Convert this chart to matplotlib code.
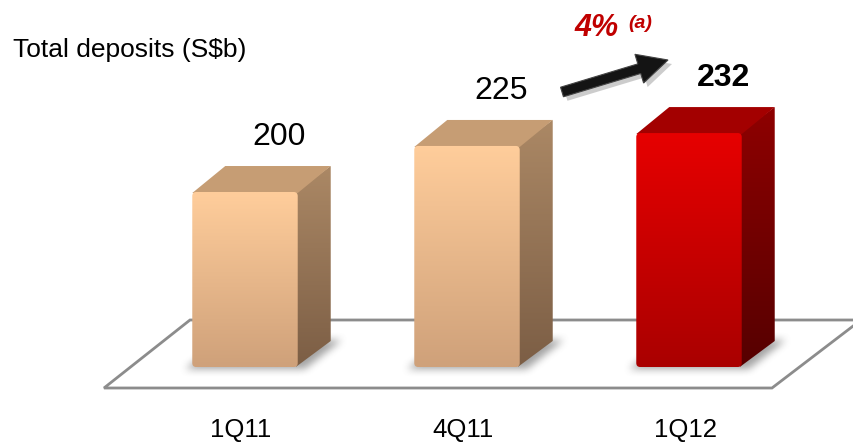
import numpy as np
import matplotlib
matplotlib.use("Agg")
import matplotlib.pyplot as plt
from matplotlib.patches import Polygon, FancyBboxPatch, FancyArrow
from matplotlib.transforms import IdentityTransform
from matplotlib.colors import to_rgb

# data
quarters = ["1Q11", "4Q11", "1Q12"]
deposits = [200, 225, 232]
growth_label = "4%"
growth_note = "(a)"
y_title = "Total deposits (S$b)"

plt.rcParams["font.family"] = ["Liberation Sans", "DejaVu Sans"]

W, H = 854, 443
BASE = 105          # value at the floor of the bars
BAR_W = 0.475
DX, DY = 33, 26     # 3D depth offset in pixels
PIX = IdentityTransform()

# face colours (front top, front bottom, side top, side bottom, top)
tan = ("#ffcd9b", "#cfa17a", "#ab8865", "#7c5e45", "#c69d74")
red = ("#e60000", "#aa0000", "#8e0000", "#560000", "#a30000")
styles = [tan, tan, red]

fig = plt.figure(figsize=(W / 100, H / 100), dpi=100)
ax = fig.add_axes([0, 0, 1, 1])
ax.set_xlim(-245 / 222, 609 / 222)
ax.set_ylim(BASE - 76 / 1.842, BASE + 367 / 1.842)
ax.set_autoscale_on(False)
ax.axis("off")


def up(y):
    # pixel row counted from the top -> display y
    return H - y


def grad_fill(clip, x0, x1, y0, y1, c_top, c_bot, z):
    ax.add_patch(clip)
    t = np.linspace(0, 1, 64)[:, None]
    img = (np.array(to_rgb(c_top)) * (1 - t) + np.array(to_rgb(c_bot)) * t)[:, None, :]
    im = ax.imshow(img, extent=(x0, x1, y0, y1), origin="upper", transform=PIX,
                   aspect="auto", interpolation="bilinear", zorder=z)
    im.set_clip_path(clip)


def soft_shadow(x0, x1, yb, z):
    pad = 16
    gx = np.arange(x0 - pad, x1 + DX + pad + 8)
    gy = np.arange(yb - pad, yb + DY + pad)
    X, Y = np.meshgrid(gx, gy)
    s = (Y - yb) * DX / DY
    m = ((Y >= yb - 2) & (Y <= yb + DY) & (X >= x0 - 4 + s) & (X <= x1 + 10 + s)).astype(float)
    k = np.ones(9) / 9
    for _ in range(2):
        m = np.apply_along_axis(lambda r: np.convolve(r, k, mode="same"), 1, m)
        m = np.apply_along_axis(lambda c: np.convolve(c, k, mode="same"), 0, m)
    rgba = np.zeros(m.shape + (4,))
    rgba[..., :3] = 0.35
    rgba[..., 3] = 0.55 * m
    ax.imshow(rgba, extent=(gx[0], gx[-1] + 1, gy[0], gy[-1] + 1), origin="lower",
              transform=PIX, aspect="auto", interpolation="bilinear", zorder=z)


# floor
floor = [(104, up(388)), (772, up(388)), (861, up(320)), (190, up(320))]
ax.add_patch(Polygon(floor, closed=True, facecolor="white", edgecolor="#8c8c8c",
                     linewidth=2, transform=PIX, zorder=1))

for i, (q, v) in enumerate(zip(quarters, deposits)):
    ft, fb, st, sb, tp = styles[i]
    x0, yb = ax.transData.transform((i - BAR_W / 2, BASE))
    x1, yt = ax.transData.transform((i + BAR_W / 2, v))

    soft_shadow(x0, x1, yb, 2)

    # side face
    side = Polygon([(x1 - 2, yb), (x1 - 2, yt), (x1 + DX, yt + DY), (x1 + DX, yb + DY)],
                   closed=True, facecolor="none", edgecolor="none", transform=PIX)
    grad_fill(side, x1 - 2, x1 + DX, yb, yt + DY, st, sb, 3)

    # top face
    top = Polygon([(x0, yt - 1), (x1, yt - 1), (x1 + DX, yt + DY), (x0 + DX, yt + DY)],
                  closed=True, facecolor=tp, edgecolor="none", transform=PIX, zorder=3,
                  joinstyle="round")
    ax.add_patch(top)

    # front face
    front = FancyBboxPatch((x0, yb), x1 - x0, yt - yb,
                           boxstyle="round,pad=0,rounding_size=4",
                           facecolor="none", edgecolor="none", transform=PIX)
    grad_fill(front, x0, x1, yb, yt, ft, fb, 4)

    ax.annotate(str(v), xy=(i, v), xytext=(34, 55), textcoords="offset pixels",
                ha="center", va="center", fontsize=23,
                fontweight="bold" if i == len(deposits) - 1 else "normal",
                color="black", zorder=6)
    ax.annotate(q, xy=(i, BASE), xytext=(-4, -70), textcoords="offset pixels",
                ha="center", va="baseline", fontsize=18.5, color="black", zorder=6)

# growth arrow
ax.add_patch(FancyArrow(566, up(96), 106, 32, width=10, head_width=30, head_length=30,
                        length_includes_head=True, facecolor="#9a9a9a", edgecolor="none",
                        alpha=0.5, transform=PIX, zorder=5))
ax.add_patch(FancyArrow(562, up(92), 106, 32, width=10, head_width=30, head_length=30,
                        length_includes_head=True, facecolor="#141414", edgecolor="#444444",
                        linewidth=0.8, transform=PIX, zorder=6))

ax.text(574, up(36), growth_label, transform=PIX, fontsize=22, fontweight="bold",
        fontstyle="italic", color="#c00000", ha="left", va="baseline", zorder=6)
ax.text(628, up(28), growth_note, transform=PIX, fontsize=14, fontweight="bold",
        fontstyle="italic", color="#c00000", ha="left", va="baseline", zorder=6)

ax.text(13, up(57), y_title, transform=PIX, fontsize=19, color="black",
        ha="left", va="baseline", zorder=6)

fig.savefig("out.png", dpi=100)
